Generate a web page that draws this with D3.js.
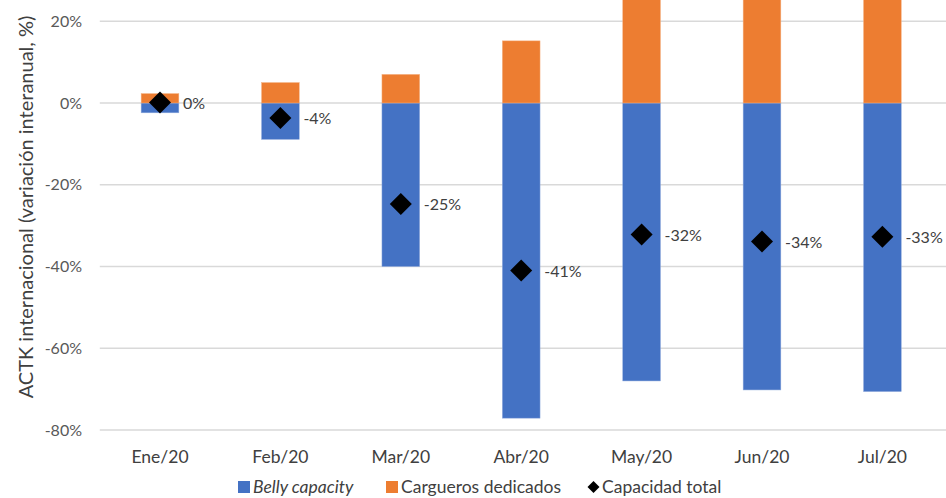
<!DOCTYPE html>
<html>
<head>
<meta charset="utf-8">
<script src="https://cdn.jsdelivr.net/npm/d3@7"></script>
<style>
  html, body { margin: 0; padding: 0; background: #fff; }
  svg { display: block; font-family: Lato, "Open Sans", sans-serif; }
</style>
</head>
<body>
<svg id="chart" width="946" height="498"></svg>
<script>
const categories = ["Ene/20", "Feb/20", "Mar/20", "Abr/20", "May/20", "Jun/20", "Jul/20"];
const bellyCapacity = [-2.4, -8.9, -40.0, -77.1, -68.0, -70.2, -70.6];
const carguerosDedicados = [2.3, 5.0, 7.0, 15.2, 25.5, 28.0, 28.0];
const capacidadTotal = [0.1, -3.7, -24.7, -41.0, -32.2, -33.9, -32.7];
const yTicks = [-80, -60, -40, -20, 0, 20];
const legendLabels = ["Belly capacity", "Cargueros dedicados", "Capacidad total"];
const yTitle = "ACTK internacional (variación interanual, %)";

const BLUE = "#4472C4", ORANGE = "#ED7D31", GRID = "#D9D9D9";
const svg = d3.select("#chart");

const x = d3.scaleBand().domain(categories).range([99.8, 942.6])
  .paddingInner(0.687).paddingOuter(0.3435);
const y = d3.scaleLinear().domain([-80, 20]).range([430, 21.25]);

// gridlines
svg.append("g").selectAll("line").data(yTicks).join("line")
  .attr("x1", 99.8).attr("x2", 946)
  .attr("y1", d => y(d)).attr("y2", d => y(d))
  .attr("stroke", GRID).attr("stroke-width", 1.3);

// y tick labels
svg.append("g").selectAll("text").data(yTicks).join("text")
  .attr("x", 82).attr("y", d => y(d) + 5.5)
  .attr("text-anchor", "end").attr("font-size", 16).attr("fill", "#595959")
  .text(d => d + "%");

// y title
svg.append("text")
  .attr("transform", `translate(33,207) rotate(-90)`)
  .attr("text-anchor", "middle").attr("font-size", 20).attr("fill", "#404040")
  .text(yTitle);

// bars
const data = categories.map((c, i) => ({ c, b: bellyCapacity[i], o: carguerosDedicados[i], t: capacidadTotal[i] }));

svg.append("g").selectAll("rect").data(data).join("rect")
  .attr("x", d => x(d.c)).attr("width", x.bandwidth())
  .attr("y", d => y(0)).attr("height", d => y(d.b) - y(0))
  .attr("fill", BLUE).attr("stroke", "#8faadc").attr("stroke-width", 0.5);

svg.append("g").selectAll("rect").data(data).join("rect")
  .attr("x", d => x(d.c)).attr("width", x.bandwidth())
  .attr("y", d => y(d.o)).attr("height", d => y(0) - y(d.o))
  .attr("fill", ORANGE).attr("stroke", "#f4b183").attr("stroke-width", 0.5);

// diamonds
const dia = d3.symbol().type(d3.symbolSquare).size(242);
svg.append("g").selectAll("path").data(data).join("path")
  .attr("d", dia)
  .attr("transform", d => `translate(${x(d.c) + x.bandwidth() / 2},${y(d.t)}) rotate(45)`)
  .attr("fill", "#000");

// data labels
svg.append("g").selectAll("text").data(data).join("text")
  .attr("x", d => x(d.c) + x.bandwidth() / 2 + 23).attr("y", d => y(d.t) + 6)
  .attr("font-size", 16).attr("fill", "#404040")
  .text(d => Math.round(d.t) + "%");

// x labels
svg.append("g").selectAll("text").data(categories).join("text")
  .attr("x", d => x(d) + x.bandwidth() / 2).attr("y", 463)
  .attr("text-anchor", "middle").attr("font-size", 17.5).attr("fill", "#404040")
  .text(d => d);

// legend
const lg = svg.append("g");
const legendX = [238, 386, 587];
const ly = 487;
lg.append("rect").attr("x", legendX[0]).attr("y", ly - 6).attr("width", 12).attr("height", 12).attr("fill", BLUE);
lg.append("rect").attr("x", legendX[1]).attr("y", ly - 6).attr("width", 12).attr("height", 12).attr("fill", ORANGE);
lg.append("path").attr("d", d3.symbol().type(d3.symbolSquare).size(72))
  .attr("transform", `translate(${legendX[2] + 6.5},${ly}) rotate(45)`).attr("fill", "#000");
lg.selectAll("text").data(legendLabels).join("text")
  .attr("x", (d, i) => legendX[i] + 15).attr("y", ly + 5.5)
  .attr("font-size", 17.5).attr("fill", "#404040")
  .attr("font-style", (d, i) => i === 0 ? "italic" : "normal")
  .text(d => d);
</script>
</body>
</html>
